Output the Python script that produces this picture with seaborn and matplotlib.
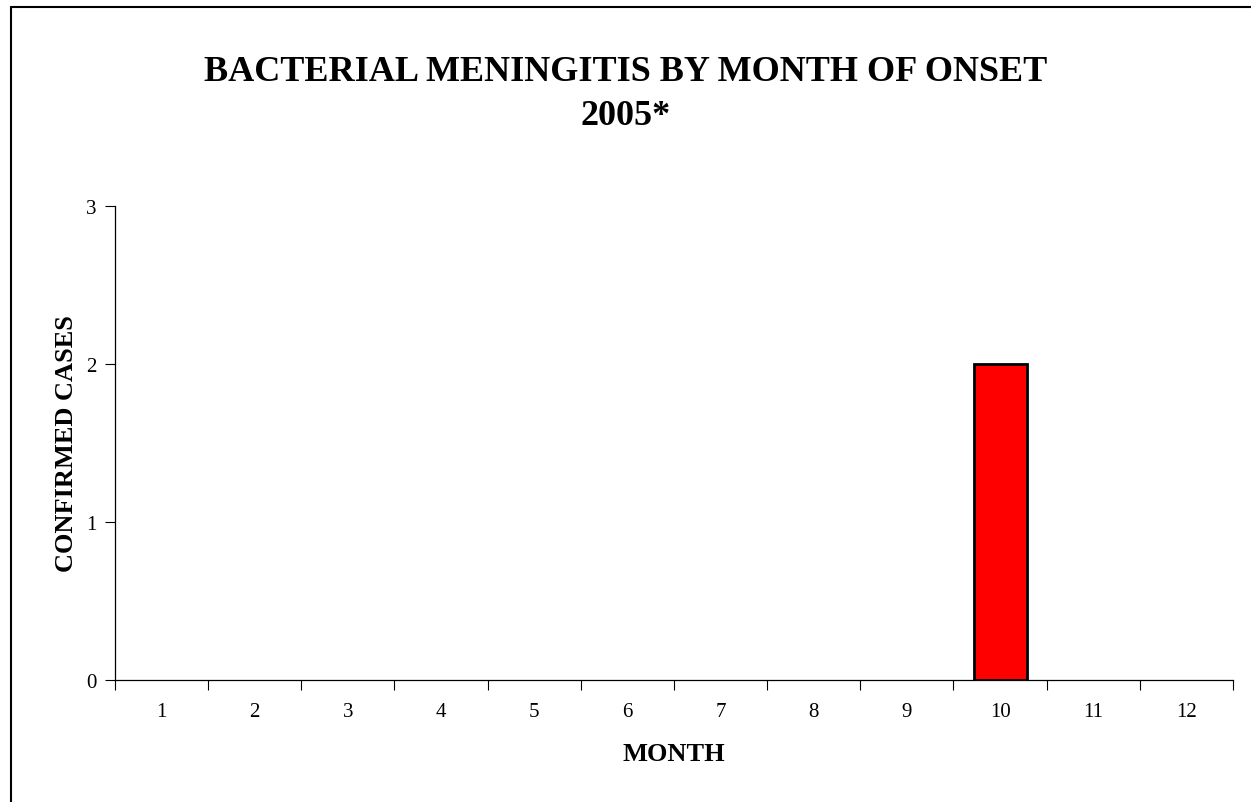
import pandas as pd
import numpy as np
import matplotlib
matplotlib.use("Agg")
import matplotlib.pyplot as plt
from matplotlib.lines import Line2D
import seaborn as sns

# --- datos ---
months = ['1', '2', '3', '4', '5', '6', '7', '8', '9', '10', '11', '12']
cases = [0, 0, 0, 0, 0, 0, 0, 0, 0, 2, 0, 0]
y_ticks = [0, 1, 2, 3]

df = pd.DataFrame({'month': months, 'cases': cases})

sns.set_style("white")
plt.rcParams['font.family'] = ['Liberation Serif', 'DejaVu Serif']
plt.rcParams['text.color'] = 'black'
plt.rcParams['axes.labelcolor'] = 'black'
plt.rcParams['xtick.color'] = 'black'
plt.rcParams['ytick.color'] = 'black'

fig = plt.figure(figsize=(12.51, 8.03), dpi=100)
ax = fig.add_axes([0.0919, 0.152, 0.8937, 0.590])

sns.barplot(data=df, x='month', y='cases', order=months, color='#ff0000',
            edgecolor='black', linewidth=2.0, width=0.57, saturation=1, ax=ax)

# las barras con valor 0 no llevan borde
for p in ax.patches:
    if p.get_height() == 0:
        p.set_linewidth(0)

ax.set_xlim(-0.5, len(months) - 0.5)
ax.set_ylim(0, 3)
ax.set_yticks(y_ticks)
ax.set_yticklabels([str(v) for v in y_ticks], fontsize=15)
ax.set_xticks(range(len(months)))
ax.set_xticklabels(months, fontsize=15)
ax.set_xticks(np.arange(-0.5, len(months)), minor=True)
ax.tick_params(axis='x', which='major', length=0, pad=16)
ax.tick_params(axis='x', which='minor', length=7, width=0.8, color='black', direction='out', bottom=True)
ax.tick_params(axis='y', length=7, width=0.8, color='black', direction='out', left=True, pad=6)

for s in ['top', 'right']:
    ax.spines[s].set_visible(False)
for s in ['left', 'bottom']:
    ax.spines[s].set_color('black')
    ax.spines[s].set_linewidth(0.9)

ax.set_xlabel('MONTH', fontsize=19, fontweight='bold', labelpad=15)
ax.set_ylabel('CONFIRMED CASES', fontsize=19, fontweight='bold', labelpad=6)

fig.text(0.5, 0.882, 'BACTERIAL MENINGITIS BY MONTH OF ONSET\n2005*', ha='center', va='center',
         fontsize=26, fontweight='bold', linespacing=1.45)

# marco del grafico (solo lados superior e izquierdo visibles)
fig.add_artist(Line2D([0.0088, 1.0], [0.990, 0.990], color='black', linewidth=1.5))
fig.add_artist(Line2D([0.0088, 0.0088], [0.0, 0.990], color='black', linewidth=1.5))

fig.savefig('out.png', dpi=100)
